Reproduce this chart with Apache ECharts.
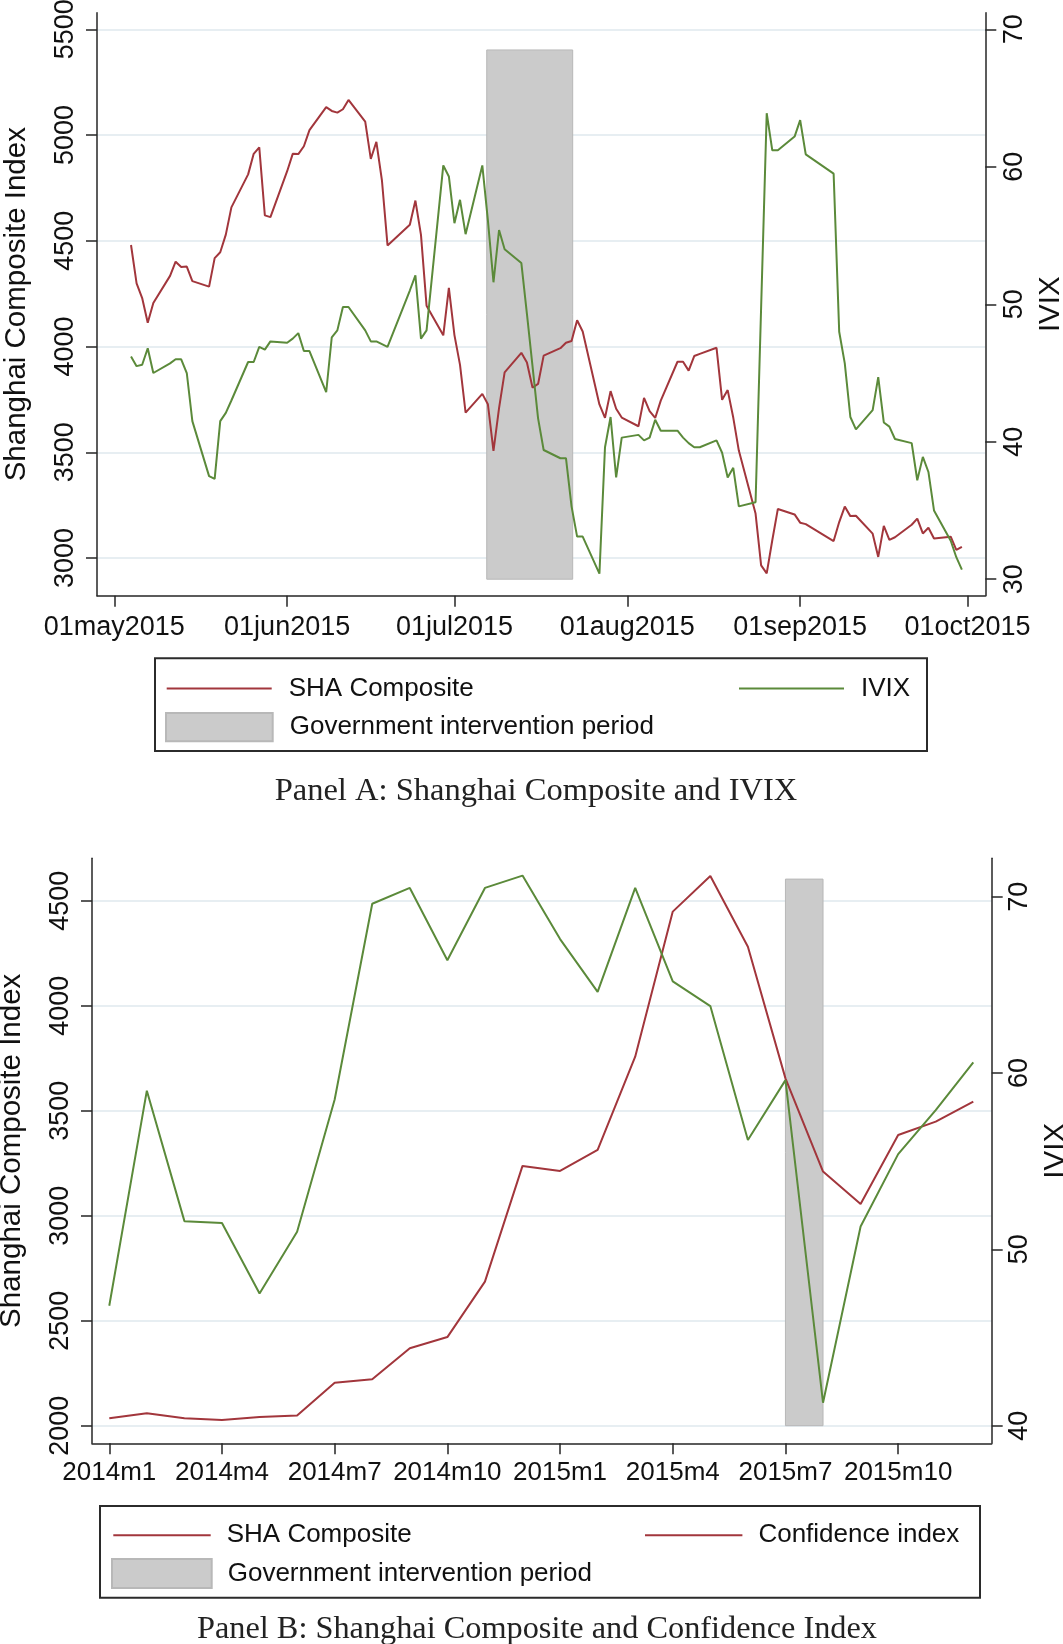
<!DOCTYPE html>
<html>
<head>
<meta charset="utf-8">
<script src="https://cdn.jsdelivr.net/npm/echarts@6/dist/echarts.min.js"></script>
<style>
  html, body { margin: 0; padding: 0; background: #fff; }
  #chart { width: 1063px; height: 1644px; }
</style>
</head>
<body>
<div id="chart"></div>
<script>
// Panel A: daily trading dates, May-Sep 2015
const datesA = [
  '2015-05-04','2015-05-05','2015-05-06','2015-05-07','2015-05-08','2015-05-11','2015-05-12','2015-05-13','2015-05-14','2015-05-15',
  '2015-05-18','2015-05-19','2015-05-20','2015-05-21','2015-05-22','2015-05-25','2015-05-26','2015-05-27','2015-05-28','2015-05-29',
  '2015-06-01','2015-06-02','2015-06-03','2015-06-04','2015-06-05','2015-06-08','2015-06-09','2015-06-10','2015-06-11','2015-06-12',
  '2015-06-15','2015-06-16','2015-06-17','2015-06-18','2015-06-19','2015-06-23','2015-06-24','2015-06-25','2015-06-26','2015-06-29','2015-06-30',
  '2015-07-01','2015-07-02','2015-07-03','2015-07-06','2015-07-07','2015-07-08','2015-07-09','2015-07-10','2015-07-13','2015-07-14',
  '2015-07-15','2015-07-16','2015-07-17','2015-07-20','2015-07-21','2015-07-22','2015-07-23','2015-07-24','2015-07-27','2015-07-28',
  '2015-07-29','2015-07-30','2015-07-31',
  '2015-08-03','2015-08-04','2015-08-05','2015-08-06','2015-08-07','2015-08-10','2015-08-11','2015-08-12','2015-08-13','2015-08-14',
  '2015-08-17','2015-08-18','2015-08-19','2015-08-20','2015-08-21','2015-08-24','2015-08-25','2015-08-26','2015-08-27','2015-08-28','2015-08-31',
  '2015-09-01','2015-09-02','2015-09-07','2015-09-08','2015-09-09','2015-09-10','2015-09-11','2015-09-14','2015-09-15','2015-09-16',
  '2015-09-17','2015-09-18','2015-09-21','2015-09-22','2015-09-23','2015-09-24','2015-09-25','2015-09-28','2015-09-29','2015-09-30'
];
const shaA = [
  4480, 4299, 4229, 4112, 4206, 4334, 4401, 4376, 4378, 4309,
  4283, 4418, 4446, 4529, 4658, 4814, 4911, 4942, 4620, 4612,
  4829, 4911, 4910, 4947, 5023, 5132, 5114, 5106, 5122, 5166,
  5063, 4887, 4968, 4785, 4478, 4576, 4690, 4528, 4193, 4053, 4277,
  4054, 3913, 3687, 3776, 3727, 3507, 3709, 3878, 3970, 3924,
  3806, 3823, 3957, 3992, 4018, 4026, 4124, 4071, 3726, 3663,
  3789, 3706, 3664,
  3623, 3757, 3695, 3662, 3744, 3928, 3928, 3886, 3955, 3965,
  3994, 3748, 3794, 3664, 3508, 3210, 2965, 2927, 3084, 3232, 3206,
  3167, 3160, 3080, 3170, 3243, 3198, 3200, 3115, 3005, 3152,
  3086, 3098, 3157, 3186, 3116, 3143, 3092, 3101, 3038, 3053
];
const ivixA = [
  46.2, 45.5, 45.6, 46.8, 45.0, 45.7, 46.0, 46.0, 45.0, 41.5,
  37.5, 37.3, 41.5, 42.1, 43.0, 45.8, 45.8, 46.9, 46.7, 47.3,
  47.2, 47.5, 47.9, 46.6, 46.6, 43.6, 47.6, 48.1, 49.8, 49.8,
  48.1, 47.3, 47.3, 47.1, 46.9, 51.0, 52.1, 47.5, 48.1, 60.1, 59.3,
  55.9, 57.6, 55.1, 60.1, 56.1, 51.6, 55.4, 54.0, 53.0, 49.3,
  45.5, 41.7, 39.4, 38.8, 38.8, 35.3, 33.1, 33.1, 30.4, 39.6,
  41.8, 37.4, 40.3,
  40.5, 40.1, 40.3, 41.6, 40.8, 40.8, 40.3, 39.9, 39.6, 39.6,
  40.1, 39.2, 37.4, 38.1, 35.3, 35.6, 49.8, 63.9, 61.2, 61.2, 62.2,
  63.4, 60.9, 59.5, 48.0, 45.7, 41.8, 40.9, 42.3, 44.7, 41.4,
  41.1, 40.2, 39.9, 37.2, 38.9, 37.8, 35.0, 32.8, 31.6, 30.7
];
// intervention period: start, end (date), low, high (IVIX scale)
const shadeA = ['2015-07-06 19', '2015-07-22 05', 30, 68.5];
const ticksA_left = [3000, 3500, 4000, 4500, 5000, 5500];
const ticksA_right = [30, 40, 50, 60, 70];
const ticksA_x = ['2015-05-01', '2015-06-01', '2015-07-01', '2015-08-01', '2015-09-01', '2015-10-01'];

// Panel B: monthly, 2014m1 .. 2015m12
const monthsB = [
  '2014m1','2014m2','2014m3','2014m4','2014m5','2014m6','2014m7','2014m8','2014m9','2014m10','2014m11','2014m12',
  '2015m1','2015m2','2015m3','2015m4','2015m5','2015m6','2015m7','2015m8','2015m9','2015m10','2015m11','2015m12'
];
const shaB = [2035, 2059, 2035, 2027, 2041, 2049, 2205, 2221, 2369, 2422, 2686, 3237,
              3213, 3313, 3757, 4448, 4618, 4281, 3654, 3210, 3056, 3384, 3448, 3543];
const confB = [46.8, 59.0, 51.6, 51.5, 47.5, 51.0, 58.5, 69.6, 70.5, 66.4, 70.5, 71.2,
               67.6, 64.6, 70.5, 65.2, 63.8, 56.2, 59.6, 41.3, 51.3, 55.4, 57.9, 60.6];
const shadeB = ['2015m7', '2015m8', 40, 71];
const ticksB_left = [2000, 2500, 3000, 3500, 4000, 4500];
const ticksB_right = [40, 50, 60, 70];
const ticksB_x = ['2014m1', '2014m4', '2014m7', '2014m10', '2015m1', '2015m4', '2015m7', '2015m10'];

const RED = '#a2363c';
const GREEN = '#5b8a3a';
const SHADE = '#cbcbcb';
const AXIS = '#262626';
const GRIDC = '#dfe9ee';
const FONT = 'Liberation Sans';
const monNames = ['jan','feb','mar','apr','may','jun','jul','aug','sep','oct','nov','dec'];
const DAY = 86400000;

function toMs(s) {
  const h = s.length > 10 ? +s.slice(11, 13) : 0;
  return Date.UTC(+s.slice(0, 4), +s.slice(5, 7) - 1, +s.slice(8, 10), h);
}
function monthIdx(s) {
  const p = s.split('m');
  return (+p[0] - 2014) * 12 + (+p[1] - 1);
}
function fmtDate(v) {
  const d = new Date(v);
  return String(d.getUTCDate()).padStart(2, '0') + monNames[d.getUTCMonth()] + d.getUTCFullYear();
}
function fmtMonth(v) {
  const i = Math.round(v);
  return (2014 + Math.floor(i / 12)) + 'm' + (i % 12 + 1);
}

const may1 = toMs('2015-05-01');
const xA = datesA.map(toMs);
const xB = monthsB.map(monthIdx);

function shadeItem(params, api) {
  const p0 = api.coord([api.value(0), api.value(3)]);
  const p1 = api.coord([api.value(1), api.value(2)]);
  return {
    type: 'rect',
    shape: { x: p0[0], y: p0[1], width: p1[0] - p0[0], height: p1[1] - p0[1] },
    style: api.style()
  };
}

function yAxisCfg(grid, pos, min, max, ticks, name, margin, nameGap, split) {
  return {
    type: 'value', gridIndex: grid, position: pos, min: min, max: max,
    name: name, nameLocation: 'middle', nameGap: nameGap, nameRotate: 90,
    nameTextStyle: { fontFamily: FONT, fontSize: 29.5, color: '#111' },
    axisLine: { show: true, onZero: false, lineStyle: { color: AXIS, width: 1.5 } },
    axisTick: { show: true, customValues: ticks, length: 11, lineStyle: { color: AXIS, width: 1.5 } },
    axisLabel: { customValues: ticks, formatter: v => String(v), rotate: 90, margin: margin,
                 fontFamily: FONT, fontSize: 27, color: '#111' },
    splitLine: { show: split, lineStyle: { color: GRIDC, width: 1.5 } }
  };
}

function xAxisCfg(grid, min, max, ticks, fmt, fontSize, margin) {
  return {
    type: 'value', gridIndex: grid, min: min, max: max,
    axisLine: { show: true, onZero: false, lineStyle: { color: AXIS, width: 1.5 } },
    axisTick: { show: true, customValues: ticks, length: 11, lineStyle: { color: AXIS, width: 1.5 } },
    axisLabel: { customValues: ticks, formatter: fmt, margin: margin, fontFamily: FONT, fontSize: fontSize, color: '#111' },
    splitLine: { show: false }
  };
}

function legendCfg(name, left, top, w, h, pad, color) {
  const item = { name: name, icon: 'rect' };
  if (color) item.itemStyle = { color: color };
  return {
    data: [item], left: left, top: top, padding: 0, itemGap: 0,
    itemWidth: w, itemHeight: h, selectedMode: false,
    textStyle: { fontFamily: FONT, fontSize: 26, color: '#111', padding: [0, 0, 0, pad] }
  };
}

const chart = echarts.init(document.getElementById('chart'));

const option = {
  animation: false,
  backgroundColor: '#fff',
  grid: [
    { left: 97, top: 12.7, width: 888.3, height: 583, outerBoundsMode: 'none', containLabel: false },
    { left: 92, top: 858.3, width: 899.7, height: 585, outerBoundsMode: 'none', containLabel: false }
  ],
  xAxis: [
    xAxisCfg(0, may1 - 3.1 * DAY, may1 + 156.2 * DAY, ticksA_x.map(toMs), fmtDate, 27, 18),
    xAxisCfg(1, -0.46, 23.49, ticksB_x.map(monthIdx), fmtMonth, 26, 17)
  ],
  yAxis: [
    yAxisCfg(0, 'left', 2821.7, 5578.5, ticksA_left, 'Shanghai Composite Index', 18, 65, true),
    yAxisCfg(0, 'right', 28.8, 71.21, ticksA_right, 'IVIX', 16, 50, false),
    yAxisCfg(1, 'left', 1916.2, 4701.9, ticksB_left, 'Shanghai Composite Index', 18, 65, true),
    yAxisCfg(1, 'right', 39.0, 72.18, ticksB_right, 'IVIX', 14, 37, false)
  ],
  legend: [
    legendCfg('SHA Composite', 166.7, 675.5, 105, 2, 12),
    legendCfg('IVIX', 739, 675.5, 105, 2, 12),
    legendCfg('Government intervention period', 165, 712, 106.7, 28.3, 12),
    legendCfg('SHA Composite', 113.3, 1522.3, 97.4, 2, 11),
    legendCfg('Confidence index', 645, 1522.3, 97.4, 2, 11, RED),
    legendCfg('Government intervention period', 111, 1558, 99.7, 29, 11)
  ],
  graphic: [
    { type: 'rect', shape: { x: 155, y: 658.3, width: 772, height: 92.7 },
      style: { fill: 'none', stroke: '#2b2b2b', lineWidth: 2 } },
    { type: 'rect', shape: { x: 100, y: 1506, width: 880, height: 91.7 },
      style: { fill: 'none', stroke: '#2b2b2b', lineWidth: 2 } },
    { type: 'text', x: 536, y: 791.5,
      style: { text: 'Panel A: Shanghai Composite and IVIX', font: '32.5px "Liberation Serif"',
               fill: '#222', textAlign: 'center', textVerticalAlign: 'middle' } },
    { type: 'text', x: 537, y: 1630,
      style: { text: 'Panel B: Shanghai Composite and Confidence Index', font: '32.3px "Liberation Serif"',
               fill: '#222', textAlign: 'center', textVerticalAlign: 'middle' } }
  ],
  series: [
    {
      name: 'Government intervention period', type: 'custom', xAxisIndex: 0, yAxisIndex: 1, z: 1,
      renderItem: shadeItem,
      itemStyle: { color: SHADE, borderColor: '#b8b8b8', borderWidth: 1 },
      data: [[toMs(shadeA[0]), toMs(shadeA[1]), shadeA[2], shadeA[3]]]
    },
    {
      name: 'SHA Composite', type: 'line', xAxisIndex: 0, yAxisIndex: 0, z: 3,
      symbol: 'none', color: RED, lineStyle: { color: RED, width: 2 },
      data: xA.map((x, i) => [x, shaA[i]])
    },
    {
      name: 'IVIX', type: 'line', xAxisIndex: 0, yAxisIndex: 1, z: 4,
      symbol: 'none', color: GREEN, lineStyle: { color: GREEN, width: 2 },
      data: xA.map((x, i) => [x, ivixA[i]])
    },
    {
      name: 'Government intervention period', type: 'custom', xAxisIndex: 1, yAxisIndex: 3, z: 1,
      renderItem: shadeItem,
      itemStyle: { color: SHADE, borderColor: '#b8b8b8', borderWidth: 1 },
      data: [[monthIdx(shadeB[0]), monthIdx(shadeB[1]), shadeB[2], shadeB[3]]]
    },
    {
      name: 'SHA Composite', type: 'line', xAxisIndex: 1, yAxisIndex: 2, z: 3,
      symbol: 'none', color: RED, lineStyle: { color: RED, width: 2 },
      data: xB.map((x, i) => [x, shaB[i]])
    },
    {
      name: 'Confidence index', type: 'line', xAxisIndex: 1, yAxisIndex: 3, z: 4,
      symbol: 'none', color: GREEN, lineStyle: { color: GREEN, width: 2 },
      data: xB.map((x, i) => [x, confB[i]])
    }
  ]
};

chart.setOption(option);
window.addEventListener('resize', () => chart.resize());
</script>
</body>
</html>
